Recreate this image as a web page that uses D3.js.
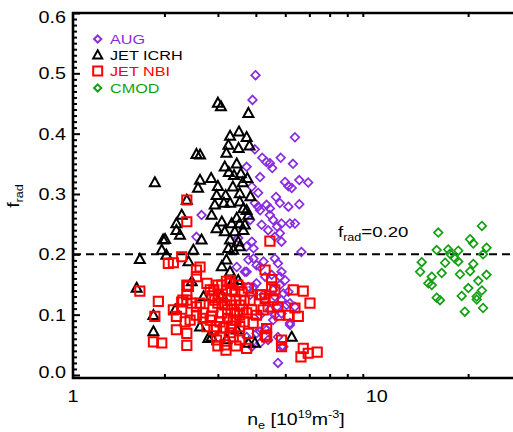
<!DOCTYPE html>
<html><head><meta charset="utf-8">
<script src="https://cdn.jsdelivr.net/npm/d3@7"></script>
<style>body{margin:0;background:#fff}svg{display:block}text{font-family:"Liberation Sans",Arial,Helvetica,sans-serif}</style>
</head><body><svg id="c" width="513" height="432"></svg>
<script>
// ---- data: [n_e (1e19 m^-3), f_rad] ----
const aug = [[3.99,0.497],[3.90,0.456],[5.38,0.394],[3.97,0.374],[4.20,0.360],[4.33,0.353],[4.45,0.351],[4.53,0.343],[4.83,0.360],[5.30,0.350],[3.73,0.345],[4.13,0.328],[4.99,0.320],[5.12,0.313],[5.25,0.310],[5.56,0.323],[5.95,0.319],[3.88,0.312],[4.07,0.302],[4.66,0.295],[4.80,0.285],[5.56,0.283],[3.97,0.285],[4.07,0.279],[4.45,0.276],[2.65,0.265],[2.55,0.229],[4.13,0.273],[4.34,0.282],[5.12,0.279],[4.45,0.265],[4.56,0.257],[4.86,0.251],[5.18,0.251],[5.38,0.251],[3.83,0.257],[4.18,0.249],[4.39,0.240],[4.70,0.246],[4.80,0.235],[4.62,0.229],[4.86,0.221],[3.50,0.227],[3.73,0.213],[3.88,0.221],[3.93,0.210],[5.65,0.204],[3.93,0.193],[4.24,0.188],[4.62,0.193],[4.73,0.185],[4.86,0.171],[4.99,0.157],[3.46,0.179],[3.73,0.171],[4.13,0.179],[4.51,0.166],[4.80,0.149],[4.02,0.152],[3.83,0.133],[4.29,0.124],[4.62,0.130],[4.86,0.124],[5.05,0.116],[4.45,0.108],[4.62,0.099],[4.13,0.099],[5.18,0.083],[4.13,0.072],[4.39,0.058],[4.73,0.063],[4.86,0.047],[3.78,0.191],[4.02,0.182],[3.68,0.171],[4.29,0.163],[4.80,0.163],[3.78,0.146],[4.56,0.141],[5.12,0.138],[4.24,0.133],[5.38,0.113],[4.86,0.102],[4.29,0.077],[4.02,0.069],[4.13,0.053],[3.88,0.047],[3.54,0.152],[4.93,0.135],[4.70,0.113],[4.56,0.091],[5.18,0.119],[5.18,0.086],[4.93,0.047],[4.73,0.020],[3.73,0.063],[4.34,0.075],[3.93,0.146]];

const jetIcrh = [[3.00,0.451],[3.07,0.445],[3.78,0.434],[2.55,0.366],[1.86,0.319],[2.37,0.290],[3.29,0.396],[3.52,0.403],[3.73,0.394],[3.25,0.381],[3.51,0.376],[3.81,0.380],[3.20,0.368],[3.16,0.345],[3.46,0.350],[3.26,0.336],[2.85,0.326],[3.00,0.313],[3.36,0.312],[3.39,0.331],[3.57,0.334],[3.75,0.326],[3.62,0.319],[2.62,0.323],[2.58,0.310],[2.97,0.298],[3.18,0.298],[3.54,0.301],[3.84,0.296],[2.93,0.282],[3.14,0.285],[3.54,0.287],[3.64,0.276],[2.62,0.365],[3.29,0.285],[3.73,0.273],[2.28,0.265],[2.86,0.265],[3.09,0.254],[3.33,0.251],[3.54,0.251],[2.19,0.240],[2.97,0.243],[3.16,0.238],[3.41,0.238],[3.64,0.240],[1.98,0.224],[2.25,0.232],[2.65,0.224],[3.29,0.224],[3.50,0.221],[3.25,0.210],[3.37,0.207],[3.54,0.213],[1.96,0.207],[2.49,0.207],[2.03,0.199],[2.40,0.188],[3.20,0.191],[3.09,0.180],[3.29,0.171],[3.50,0.157],[2.46,0.155],[2.69,0.130],[1.84,0.099],[2.17,0.108],[2.62,0.080],[1.84,0.072],[2.86,0.063],[3.20,0.059],[5.25,0.063],[3.97,0.053],[2.19,0.251],[2.01,0.225],[1.66,0.192],[1.62,0.144],[3.09,0.133],[3.37,0.157],[3.46,0.075],[3.78,0.265],[3.46,0.260],[3.68,0.249],[3.78,0.053],[2.79,0.061]];

const jetNbi = [[1.66,0.139],[1.91,0.122],[1.86,0.097],[1.84,0.055],[1.96,0.053],[2.19,0.097],[2.19,0.075],[2.37,0.069],[2.37,0.049],[2.28,0.121],[2.28,0.109],[2.37,0.133],[2.40,0.147],[2.34,0.088],[2.43,0.091],[2.55,0.113],[2.62,0.119],[2.76,0.152],[2.68,0.103],[2.86,0.097],[2.89,0.113],[2.97,0.080],[3.05,0.063],[3.01,0.133],[3.09,0.103],[3.20,0.141],[3.29,0.152],[3.29,0.124],[3.37,0.091],[3.41,0.103],[3.54,0.080],[3.63,0.108],[3.78,0.069],[3.73,0.044],[3.92,0.086],[3.54,0.058],[3.37,0.063],[3.78,0.144],[4.13,0.133],[4.34,0.063],[4.34,0.077],[4.02,0.099],[4.23,0.108],[4.39,0.113],[4.51,0.146],[4.56,0.124],[4.73,0.113],[4.80,0.099],[5.12,0.099],[5.52,0.097],[5.31,0.141],[5.73,0.139],[6.03,0.119],[4.86,0.047],[5.73,0.044],[5.63,0.030],[5.95,0.036],[6.37,0.038],[3.73,0.103],[2.76,0.080],[2.97,0.058],[2.37,0.124],[2.37,0.254],[4.45,0.222],[2.06,0.185],[2.14,0.186],[2.28,0.196],[2.62,0.179],[2.55,0.174],[2.55,0.163],[4.29,0.174],[4.51,0.158],[3.29,0.157],[2.37,0.149],[4.18,0.133],[4.29,0.127],[4.86,0.058],[2.37,0.290],[5.38,0.111],[4.62,0.141],[4.29,0.066],[2.14,0.108],[2.87,0.131],[2.93,0.124],[3.00,0.119],[3.09,0.128],[3.16,0.116],[3.23,0.108],[3.33,0.116],[3.44,0.124],[3.54,0.116],[3.66,0.124],[2.83,0.091],[2.91,0.075],[3.05,0.088],[3.14,0.078],[3.23,0.094],[3.33,0.081],[3.44,0.091],[3.54,0.099],[3.66,0.088],[3.29,0.070],[3.16,0.050],[3.00,0.048],[2.83,0.141],[3.41,0.138],[3.60,0.138],[3.83,0.124],[3.88,0.108],[3.09,0.149],[2.91,0.141],[3.49,0.149],[3.19,0.041],[3.44,0.048],[3.00,0.149],[3.20,0.155],[3.33,0.141],[2.30,0.124],[2.46,0.119],[2.55,0.099],[2.68,0.094]];

const cmod = [[22.2,0.247],[15.95,0.236],[20.3,0.225],[20.8,0.218],[15.76,0.207],[17.2,0.208],[18.56,0.206],[23.0,0.211],[22.4,0.200],[17.43,0.201],[18.1,0.193],[18.56,0.188],[14.07,0.187],[16.8,0.186],[20.8,0.184],[13.9,0.171],[16.37,0.169],[18.8,0.167],[20.3,0.172],[23.0,0.166],[15.18,0.163],[14.79,0.152],[15.18,0.149],[21.6,0.156],[20.03,0.144],[22.2,0.140],[19.05,0.131],[21.35,0.130],[21.35,0.125],[15.76,0.128],[16.16,0.124],[19.5,0.105],[22.4,0.111]];

const seriesNames = ["AUG","JET ICRH","JET NBI","CMOD"];
const seriesColors = ["#8a2be2","#000000","#ff0000","#12a012"];
const yTickValues = [0,0.1,0.2,0.3,0.4,0.5,0.6];
const yTickLabels = ["0.0","0.1","0.2","0.3","0.4","0.5","0.6"];
const xTickValues = [1,10];
const xTickLabels = ["1","10"];
const xMinorValues = [2,3,4,5,6,7,8,9,20];
const refLevel = 0.2;
const refLabel = "0.20";

// ---- layout ----
const svg = d3.select("#c");
const L = 73, R = 521.6, T = 13, B = 378;
const x = d3.scaleLog().domain([1,30]).range([L,R]);
const y = d3.scaleLinear().domain([-0.005,0.6]).range([B,T]);
const SX = 1.2;

// markers
const shapes = {
  diamond: s => `M0,${-s}L${s},0L0,${s}L${-s},0Z`,
  triangle: s => `M0,${-s*1.05}L${s},${s*0.75}L${-s},${s*0.75}Z`,
  square: s => `M${-s},${-s}H${s}V${s}H${-s}Z`
};
function drawSeries(data, shape, size, color, sw){
  svg.append("g").selectAll("path").data(data).join("path")
    .attr("transform", d => `translate(${x(d[0])},${y(d[1])})`)
    .attr("d", shapes[shape](size))
    .attr("fill","none").attr("stroke",color).attr("stroke-width",sw)
    .attr("stroke-linejoin","miter");
}

// dashed reference line
svg.append("line").attr("x1",L).attr("x2",513).attr("y1",y(refLevel)).attr("y2",y(refLevel))
  .attr("stroke","#000").attr("stroke-width",2).attr("stroke-dasharray","8,5");

drawSeries(aug,"diamond",4.3,seriesColors[0],1.7);
drawSeries(jetIcrh,"triangle",5,seriesColors[1],2);
drawSeries(jetNbi,"square",4.6,seriesColors[2],2);
drawSeries(cmod,"diamond",4.3,seriesColors[3],1.7);

// axes (ticks inward)
const yMinor = d3.range(0,61).filter(i=>i%10!==0).map(i=>i/100);
const gy = svg.append("g").attr("transform",`translate(${L},0)`);
gy.call(d3.axisRight(y).tickValues(yTickValues).tickSize(7).tickFormat(""));
gy.call(g=>g.select(".domain").remove());
const gy2 = svg.append("g").attr("transform",`translate(${L},0)`);
gy2.call(d3.axisRight(y).tickValues(yMinor).tickSize(4).tickFormat(""));
gy2.call(g=>g.select(".domain").remove());
const gx = svg.append("g").attr("transform",`translate(0,${B})`);
gx.call(d3.axisTop(x).tickValues(xTickValues).tickSize(8).tickFormat(""));
gx.call(d3.axisTop(x).tickValues(xMinorValues).tickSize(4).tickFormat(""));
const gxt = svg.append("g").attr("transform",`translate(0,${T})`);
gxt.call(d3.axisBottom(x).tickValues(xTickValues).tickSize(8).tickFormat(""));
gxt.call(d3.axisBottom(x).tickValues(xMinorValues).tickSize(4).tickFormat(""));
svg.selectAll(".domain").remove();
svg.selectAll(".tick line").attr("stroke","#000").attr("stroke-width",2);

// frame
svg.append("path").attr("d",`M513,${T}H${L}V${B}H513`).attr("fill","none")
  .attr("stroke","#000").attr("stroke-width",2.6);

// tick labels
function txt(px,py,s,anchor,size,color,sx){
  return svg.append("text").attr("transform",`translate(${px},${py}) scale(${sx||SX},1)`)
    .attr("text-anchor",anchor).attr("font-size",size).attr("fill",color||"#000").text(s);
}
yTickValues.forEach((v,i)=>{
  const cy = Math.min(Math.max(y(v),17),372);
  txt(66, cy+6, yTickLabels[i], "end", 16.5);
});
xTickValues.forEach((v,i)=> txt(x(v), 401.5, xTickLabels[i], "middle", 16.5));

// axis titles
const xt = svg.append("text").attr("transform",`translate(296,425) scale(1.15,1)`)
  .attr("text-anchor","middle").attr("font-size",17);
xt.append("tspan").text("n");
xt.append("tspan").attr("font-size",11).attr("dy",4).text("e");
xt.append("tspan").attr("dy",-4).text(" [10");
xt.append("tspan").attr("font-size",11).attr("dy",-7).text("19");
xt.append("tspan").attr("dy",7).text("m");
xt.append("tspan").attr("font-size",11).attr("dy",-7).text("-3");
xt.append("tspan").attr("dy",7).text("]");

const yt = svg.append("text").attr("transform",`translate(19,196) rotate(-90) scale(1.15,1)`)
  .attr("text-anchor","middle").attr("font-size",17);
yt.append("tspan").text("f");
yt.append("tspan").attr("font-size",11).attr("dy",4).text("rad");

// annotation
const an = svg.append("text").attr("transform",`translate(338,237) scale(1.2,1)`)
  .attr("font-size",15.5);
an.append("tspan").text("f");
an.append("tspan").attr("font-size",10.5).attr("dy",4).text("rad");
an.append("tspan").attr("dy",-4).text("=" + refLabel);

// legend
const legShapes = ["diamond","triangle","square","diamond"];
const legSizes = [3.6,4.5,4.5,3.6];
const legY = [39,55,71,88];
seriesNames.forEach((nm,i)=>{
  svg.append("path").attr("transform",`translate(97.7,${legY[i]})`)
    .attr("d",shapes[legShapes[i]](legSizes[i])).attr("fill","none")
    .attr("stroke",seriesColors[i]).attr("stroke-width",2);
  txt(110, legY[i]+5, nm, "start", 13.5, seriesColors[i]);
});
</script></body></html>
